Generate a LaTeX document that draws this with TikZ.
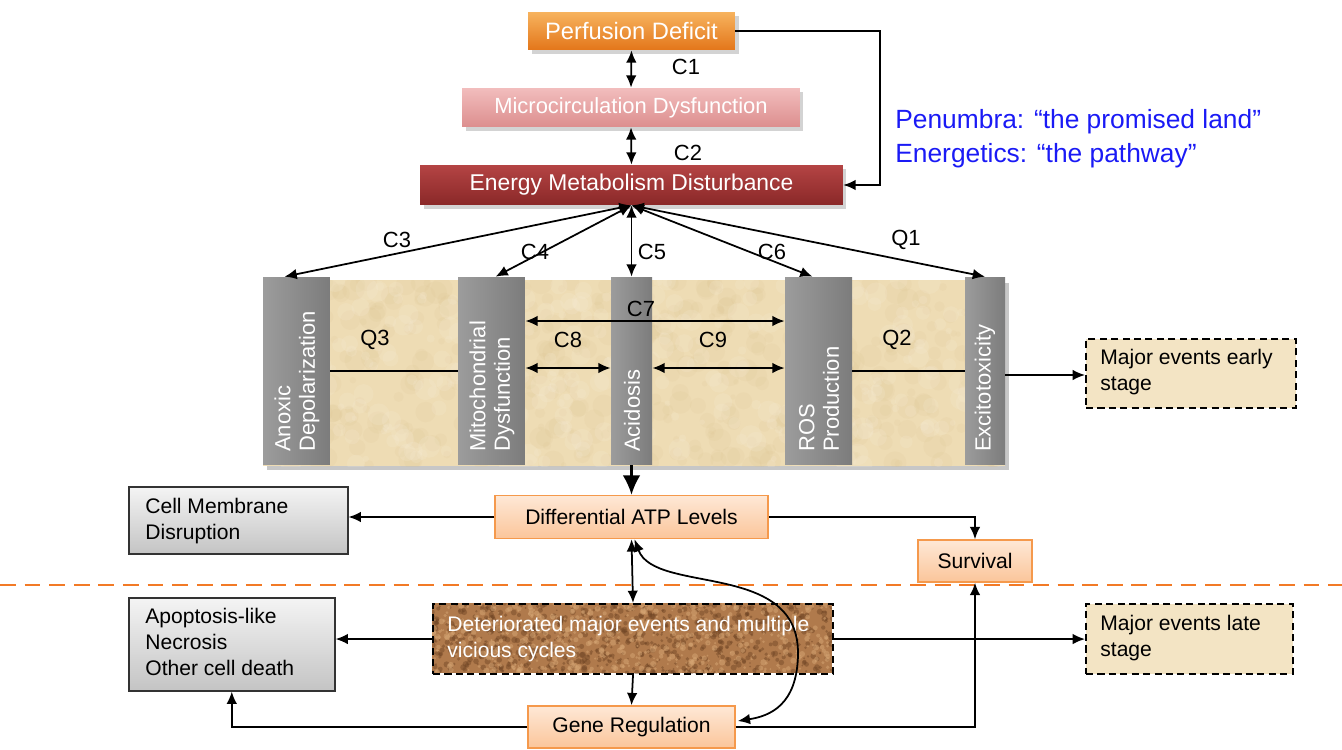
\documentclass[tikz,border=0pt]{standalone}
\usepackage{fontspec}
\setmainfont{Liberation Sans}
\usetikzlibrary{arrows.meta,shadows,calc}

\definecolor{perfTop}{HTML}{F7B35E}
\definecolor{perfBot}{HTML}{E3761A}
\definecolor{microTop}{HTML}{F2BDBD}
\definecolor{microBot}{HTML}{DC8E8E}
\definecolor{enerTop}{HTML}{B44444}
\definecolor{enerBot}{HTML}{8A2828}
\definecolor{peachTop}{HTML}{FEE8D6}
\definecolor{peachBot}{HTML}{FBC59A}
\definecolor{peachLine}{HTML}{F5994C}
\definecolor{barLight}{HTML}{9C9C9C}
\definecolor{barDark}{HTML}{7C7C7C}
\definecolor{greyTop}{HTML}{F4F4F4}
\definecolor{greyBot}{HTML}{C4C4C4}
\definecolor{sandBase}{HTML}{EEDCB4}
\definecolor{sandDark}{HTML}{D6BC86}
\definecolor{sandLight}{HTML}{F8EEDA}
\definecolor{earthBase}{HTML}{B07A4C}
\definecolor{earthDark}{HTML}{6E4424}
\definecolor{earthLight}{HTML}{D6A674}
\definecolor{paleSand}{HTML}{F3E4C4}
\definecolor{stageLine}{HTML}{F27A26}
\definecolor{noteBlue}{HTML}{1A1AF5}

\tikzset{
  arr/.style={-{Latex[length=7pt,width=6pt]}, line width=1pt},
  dblarr/.style={{Latex[length=7pt,width=6pt]}-{Latex[length=7pt,width=6pt]}, line width=1pt},
  topbox/.style={rectangle, text=white, drop shadow={shadow xshift=2pt, shadow yshift=-2pt, opacity=0.35}},
  peachbox/.style={rectangle, draw=peachLine, line width=0.9pt, top color=peachTop, bottom color=peachBot, text=black},
  greybox/.style={rectangle, draw=black!80, line width=0.9pt, top color=greyTop, bottom color=greyBot, text=black, align=left, anchor=north west, inner sep=0pt},
  stagebox/.style={rectangle, draw=black, line width=1.2pt, dash pattern=on 4pt off 2.5pt},
  barbox/.style={rectangle, left color=barLight, right color=barDark, draw=none, inner sep=0pt, minimum height=3.76cm},
  bartext/.style={rotate=90, anchor=west, align=left, text=white, font=\fontsize{12.5}{14}\selectfont, inner sep=0pt},
  lbl/.style={font=\fontsize{12.5}{15}\selectfont, inner sep=0pt},
}

\begin{document}
\begin{tikzpicture}[x=0.02cm, y=-0.02cm, font=\fontsize{12}{14.7}\selectfont]
\useasboundingbox (0,0) rectangle (1342,750);

% ---- top chain ----
\node[topbox, top color=perfTop, bottom color=perfBot, minimum width=4.14cm, minimum height=0.76cm, font=\fontsize{13.5}{16}\selectfont] (perf) at (631.5,31) {Perfusion Deficit};
\node[topbox, top color=microTop, bottom color=microBot, minimum width=6.76cm, minimum height=0.78cm, font=\fontsize{12.5}{15}\selectfont] (micro) at (631,107.5) {Microcirculation Dysfunction};
\node[topbox, top color=enerTop, bottom color=enerBot, minimum width=8.46cm, minimum height=0.8cm, font=\fontsize{13}{15}\selectfont] (ener) at (631.5,185) {Energy Metabolism Disturbance};

\draw[dblarr] (perf.south) -- (micro.north);
\draw[dblarr] (micro.south) -- (ener.north);
\node[lbl] (c1) at (686,67) {C1};
\node[lbl] (c2) at (688,153) {C2};
\draw[arr] (perf.east) -- ++(145,0) |- (ener.east);

\node[anchor=west, text=noteBlue, font=\fontsize{15}{18}\selectfont, inner sep=0pt] (pen) at (895,122) {Penumbra: “the promised land”};
\node[anchor=west, text=noteBlue, font=\fontsize{15}{18}\selectfont, inner sep=0pt] (ene) at (895,156) {Energetics: “the pathway”};

% ---- textured panel of early events ----
\fill[black, opacity=0.22] (267,283) rectangle (1009,470);
\fill[sandBase] (263,280) rectangle (1005,466);
\begin{scope}
  \clip (263,280) rectangle (1005,466);
  \pgfmathsetseed{42}
  \foreach \k in {1,...,500}{
    \pgfmathsetmacro\px{263+742*rnd}
    \pgfmathsetmacro\py{280+186*rnd}
    \pgfmathsetmacro\pr{1.5+5*rnd}
    \fill[sandDark, opacity=0.10] (\px,\py) circle[radius=\pr pt];
  }
  \foreach \k in {1,...,350}{
    \pgfmathsetmacro\px{263+742*rnd}
    \pgfmathsetmacro\py{280+186*rnd}
    \pgfmathsetmacro\pr{1.5+5*rnd}
    \fill[sandLight, opacity=0.18] (\px,\py) circle[radius=\pr pt];
  }
\end{scope}

\node[barbox, minimum width=1.34cm] (anox) at (296.5,371) {};
\node[barbox, minimum width=1.34cm] (mito) at (491.5,371) {};
\node[barbox, minimum width=0.82cm] (acid) at (631.5,371) {};
\node[barbox, minimum width=1.34cm] (ros) at (818.5,371) {};
\node[barbox, minimum width=0.80cm] (exci) at (985,371) {};

\node[bartext] (tanox) at (297,452) {Anoxic\\Depolarization};
\node[bartext] (tmito) at (492,452) {Mitochondrial\\Dysfunction};
\node[bartext] (tacid) at (632,452) {Acidosis};
\node[bartext] (tros) at (819,452) {ROS\\Production};
\node[bartext] (texci) at (985,452) {Excitotoxicity};

% arrows from the metabolism box to the five events
\draw[dblarr] (ener.south) -- ($(anox.north)+(-12,0)$);
\draw[dblarr] (ener.south) -- ($(mito.north)+(4,0)$);
\draw[dblarr] (ener.south) -- (acid.north);
\draw[dblarr] (ener.south) -- ($(ros.north)+(-6,0)$);
\draw[dblarr] (ener.south) -- (exci.north);
\node[lbl] (c3) at (397,240) {C3};
\node[lbl] (c4) at (535,252) {C4};
\node[lbl] (c5) at (652,252) {C5};
\node[lbl] (c6) at (772,252) {C6};
\node[lbl] (q1) at (906,240) {Q1};

% links between events
\draw[line width=0.9pt] (anox.east) -- (mito.west);
\draw[line width=0.9pt] (ros.east) -- (exci.west);
\draw[dblarr] ($(mito.east)+(0,-50)$) -- ($(ros.west)+(0,-50)$);
\draw[dblarr] ($(mito.east)+(0,-3)$) -- ($(acid.west)+(0,-3)$);
\draw[dblarr] ($(acid.east)+(0,-3)$) -- ($(ros.west)+(0,-3)$);
\node[lbl] (q3) at (375,340) {Q3};
\node[lbl] (c8) at (568,340) {C8};
\node[lbl] (c9) at (713,340) {C9};
\node[lbl] (q2) at (897,340) {Q2};
\node[lbl] (c7) at (641,309) {C7};

% early stage box
\node[stagebox, anchor=north west, minimum width=4.2cm, minimum height=1.38cm, fill=paleSand] (early) at (1085,338) {};
\node[anchor=north west, align=left, inner sep=0pt] (tearly) at (1100,349) {Major events early\\stage};
\draw[arr] ($(exci.east)+(0,4)$) -- (early.west |- 0,375);

% ---- ATP level ----
\node[peachbox, minimum width=5.46cm, minimum height=0.86cm] (atp) at (631.5,517) {Differential ATP Levels};
\draw[-{Latex[length=11pt,width=10pt]}, line width=1.2pt] (acid.south) -- (atp.north);

\node[greybox, minimum width=4.38cm, minimum height=1.34cm] (cell) at (128,486) {};
\node[anchor=north west, align=left, inner sep=0pt] (tcell) at (145,498) {Cell Membrane\\Disruption};
\draw[arr] (atp.west) -- (atp.west -| cell.east);

\node[peachbox, minimum width=2.28cm, minimum height=0.84cm] (surv) at (975,561) {Survival};
\draw[arr] (atp.east) -| (surv.north);

% boundary between early and late stages
\draw[stageLine, line width=1.3pt, dash pattern=on 9pt off 5pt] (0,585) -- (1342,585);

% ---- late events ----
\fill[earthBase] (432,603) rectangle (832,673);
\begin{scope}
  \clip (432,603) rectangle (832,673);
  \pgfmathsetseed{7}
  \foreach \k in {1,...,800}{
    \pgfmathsetmacro\px{432+400*rnd}
    \pgfmathsetmacro\py{603+70*rnd}
    \pgfmathsetmacro\pr{0.5+1.3*rnd}
    \fill[earthDark, opacity=0.45] (\px,\py) circle[radius=\pr pt];
  }
  \foreach \k in {1,...,600}{
    \pgfmathsetmacro\px{432+400*rnd}
    \pgfmathsetmacro\py{603+70*rnd}
    \pgfmathsetmacro\pr{0.5+1.3*rnd}
    \fill[earthLight, opacity=0.5] (\px,\py) circle[radius=\pr pt];
  }
\end{scope}
\node[stagebox, anchor=north west, minimum width=8cm, minimum height=1.4cm] (det) at (432,603) {};
\node[anchor=north west, align=left, inner sep=0pt, text=white] (tdet) at (447,616) {Deteriorated major events and multiple\\vicious cycles};

\node[stagebox, anchor=north west, minimum width=4.14cm, minimum height=1.4cm, fill=paleSand] (late) at (1085,603) {};
\node[anchor=north west, align=left, inner sep=0pt] (tlate) at (1100,615) {Major events late\\stage};

\node[greybox, minimum width=4.12cm, minimum height=1.86cm] (apop) at (128,597) {};
\node[anchor=north west, align=left, inner sep=0pt] (tapop) at (145,608) {Apoptosis-like\\Necrosis\\Other cell death};

\node[peachbox, minimum width=4.14cm, minimum height=0.84cm] (gene) at (631.5,727) {Gene Regulation};

\draw[dblarr] (atp.south) -- (det.north);
\draw[arr] (det.south) -- (gene.north);
\draw[arr] (det.west) -- (det.west -| apop.east);
\draw[arr] (det.east) -- (late.west);
\draw[arr] (gene.west) -| (apop.south);
\draw[arr] (gene.east) -| (surv.south);
\draw[dblarr] ($(atp.south)+(3,0)$) .. controls (655,595) and (800,560) .. (798,655)
  .. controls (797,705) and (770,716) .. ($(gene.east)+(2,-6)$);

\end{tikzpicture}
\end{document}
